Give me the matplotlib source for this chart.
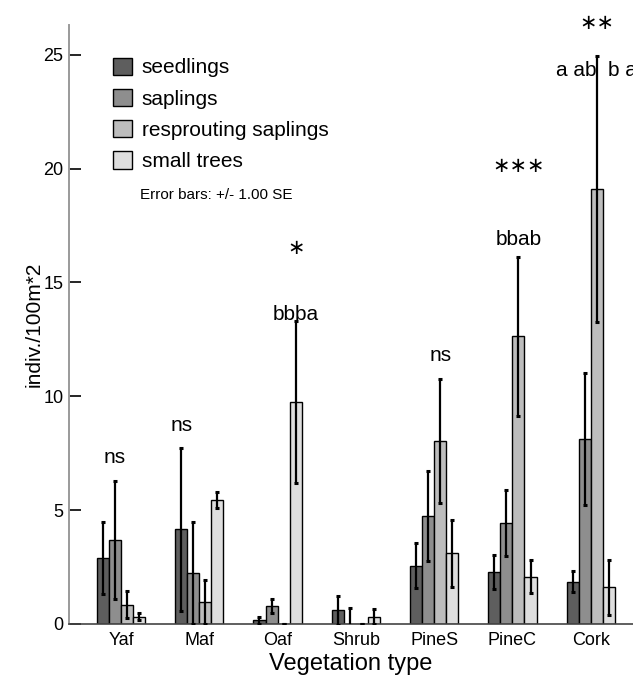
import matplotlib as mpl
import matplotlib.pyplot as plt
import numpy as np

# ---- data ------------------------------------------------------------------
GROUPS = ["Yaf", "Maf", "Oaf", "Shrub", "PineS", "PineC", "Cork"]
SERIES = ["seedlings", "saplings", "resprouting saplings", "small trees"]

seedlings = [2.9, 4.15, 0.17, 0.6, 2.56, 2.29, 1.86]
seedlings_se = [1.6, 3.6, 0.15, 0.65, 1.0, 0.75, 0.45]
saplings = [3.7, 2.24, 0.79, 0.0, 4.75, 4.44, 8.11]
saplings_se = [2.6, 2.25, 0.32, 0.72, 1.98, 1.46, 2.9]
resprouting = [0.85, 0.96, 0.0, 0.0, 8.04, 12.63, 19.11]
resprouting_se = [0.6, 0.95, 0.0, 0.0, 2.74, 3.5, 5.85]
small_trees = [0.32, 5.44, 9.75, 0.32, 3.1, 2.08, 1.61]
small_trees_se = [0.15, 0.35, 3.55, 0.33, 1.48, 0.73, 1.2]

# significance labels: (group, series index of anchor bar, text, y)
letters = [
    (0, 1, "ns", 7.3),
    (1, 0, "ns", 8.7),
    (2, 3, "bbba", 13.6),
    (4, 2, "ns", 11.8),
    (5, 2, "bbab", 16.9),
    (6, 2, "a ab  b a", 24.3),
]
stars = [
    (2, 3, "\u2217", 16.5),
    (5, 2, "\u2217\u2217\u2217", 20.1),
    (6, 2, "\u2217\u2217", 26.4),
]

COLORS = ["#5e5e5e", "#8e8e8e", "#bdbdbd", "#dedede"]

mpl.rcParams["font.family"] = ["Liberation Sans", "DejaVu Sans"]

fig = plt.figure(figsize=(6.33, 6.75), dpi=100)
ax = fig.add_axes([0.109, 0.0756, 0.891, 0.887])

values = [seedlings, saplings, resprouting, small_trees]
errors = [seedlings_se, saplings_se, resprouting_se, small_trees_se]
x = np.arange(len(GROUPS))
width = 0.154
offsets = (np.arange(4) - 1.5) * width

for k in range(4):
    ax.bar(x + offsets[k], values[k], width=width, color=COLORS[k],
           edgecolor="black", linewidth=1.0, label=SERIES[k], zorder=2)
    ax.errorbar(x + offsets[k], values[k], yerr=errors[k], fmt="none",
                ecolor="black", elinewidth=1.6, capsize=1.2, capthick=2.2,
                zorder=3)

for g, k, txt, y in letters:
    ax.text(x[g] + offsets[k], y, txt, ha="center", va="center",
            fontsize=15, clip_on=False)
for g, k, txt, y in stars:
    ax.text(x[g] + offsets[k], y, txt, ha="center", va="center",
            fontsize=15, family="DejaVu Sans", clip_on=False)

ax.set_xlim(-0.664, 6.54)
ax.set_ylim(0, 26.3)
ax.set_xticks(x)
ax.set_xticklabels(GROUPS, fontsize=13)
ax.set_yticks([0, 5, 10, 15, 20, 25])
ax.tick_params(axis="y", direction="in", length=8.5, width=1.2,
               labelsize=13, pad=4)
ax.tick_params(axis="x", length=0, pad=6)
ax.set_xlabel("Vegetation type", fontsize=17, labelpad=3)
ax.set_ylabel("indiv./100m*2", fontsize=15, labelpad=0)

ax.spines[["top", "right"]].set_visible(False)
ax.spines["left"].set_color("#9a9a9a")
ax.spines["left"].set_linewidth(1.4)
ax.spines["bottom"].set_color("#444444")
ax.spines["bottom"].set_linewidth(1.2)

leg = ax.legend(loc="upper left", bbox_to_anchor=(0.064, 0.96), frameon=False,
                fontsize=15, handlelength=0.9, handleheight=0.9,
                handletextpad=0.45, labelspacing=0.55, borderaxespad=0)
ax.text(0.126, 0.716, "Error bars: +/- 1.00 SE", transform=ax.transAxes,
        fontsize=11, ha="left", va="center")

fig.savefig("out.png", dpi=100)
